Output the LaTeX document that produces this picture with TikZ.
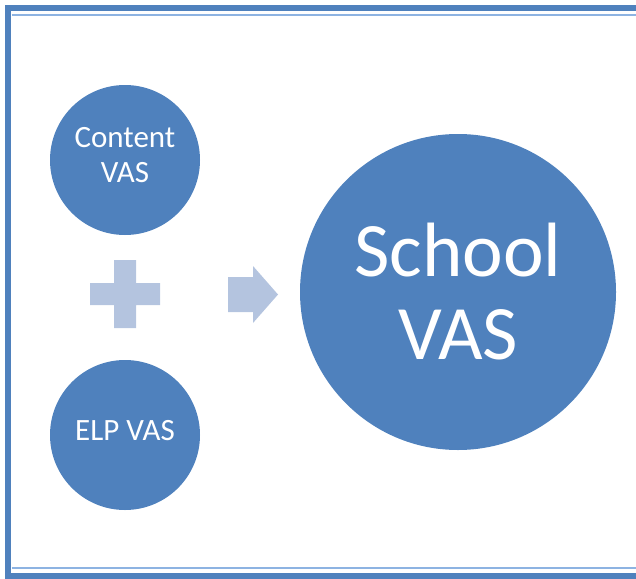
\documentclass[tikz,border=0pt]{standalone}
\usepackage{fontspec}
\setmainfont{Carlito}
\usetikzlibrary{positioning}

\definecolor{vasblue}{HTML}{4F81BD}
\definecolor{vaslight}{HTML}{B4C4DF}
\definecolor{framethin}{HTML}{8DB3E2}

\begin{document}
\begin{tikzpicture}[x=1pt,y=-1pt,
					vas circle/.style={circle, fill=vasblue, inner sep=0pt, text=white, align=center},
					small vas/.style={vas circle, minimum size=150pt, text depth=10pt, font=\fontsize{31}{35}\selectfont},
					big vas/.style={vas circle, minimum size=316pt, font=\fontsize{77}{83}\selectfont},
				]
					\useasboundingbox (0,0) rectangle (636,578);
					% frame
					\draw[vasblue, line width=6pt] (8,8) rectangle (660,575.5);
					\draw[framethin, line width=1.6pt] (11.5,15) -- (640,15);
					\draw[framethin, line width=1.6pt] (11.5,568) -- (640,568);
					
					\node[small vas] (content) at (125,160) {Content\\VAS};
					\node[small vas] (elp) at (125,435) {ELP VAS};
					\node[big vas] (school) at (458,292) {School\\VAS};
					
					% plus and arrow
					\fill[vaslight] (114,260) -- (136,260) -- (136,283) -- (160,283) -- (160,305)
						-- (136,305) -- (136,328) -- (114,328) -- (114,305) -- (90,305)
						-- (90,283) -- (114,283) -- cycle;
					\fill[vaslight] (228,277) -- (253,277) -- (253,266) -- (278,294.5)
						-- (253,323) -- (253,312) -- (228,312) -- cycle;
				\end{tikzpicture}
\end{document}
